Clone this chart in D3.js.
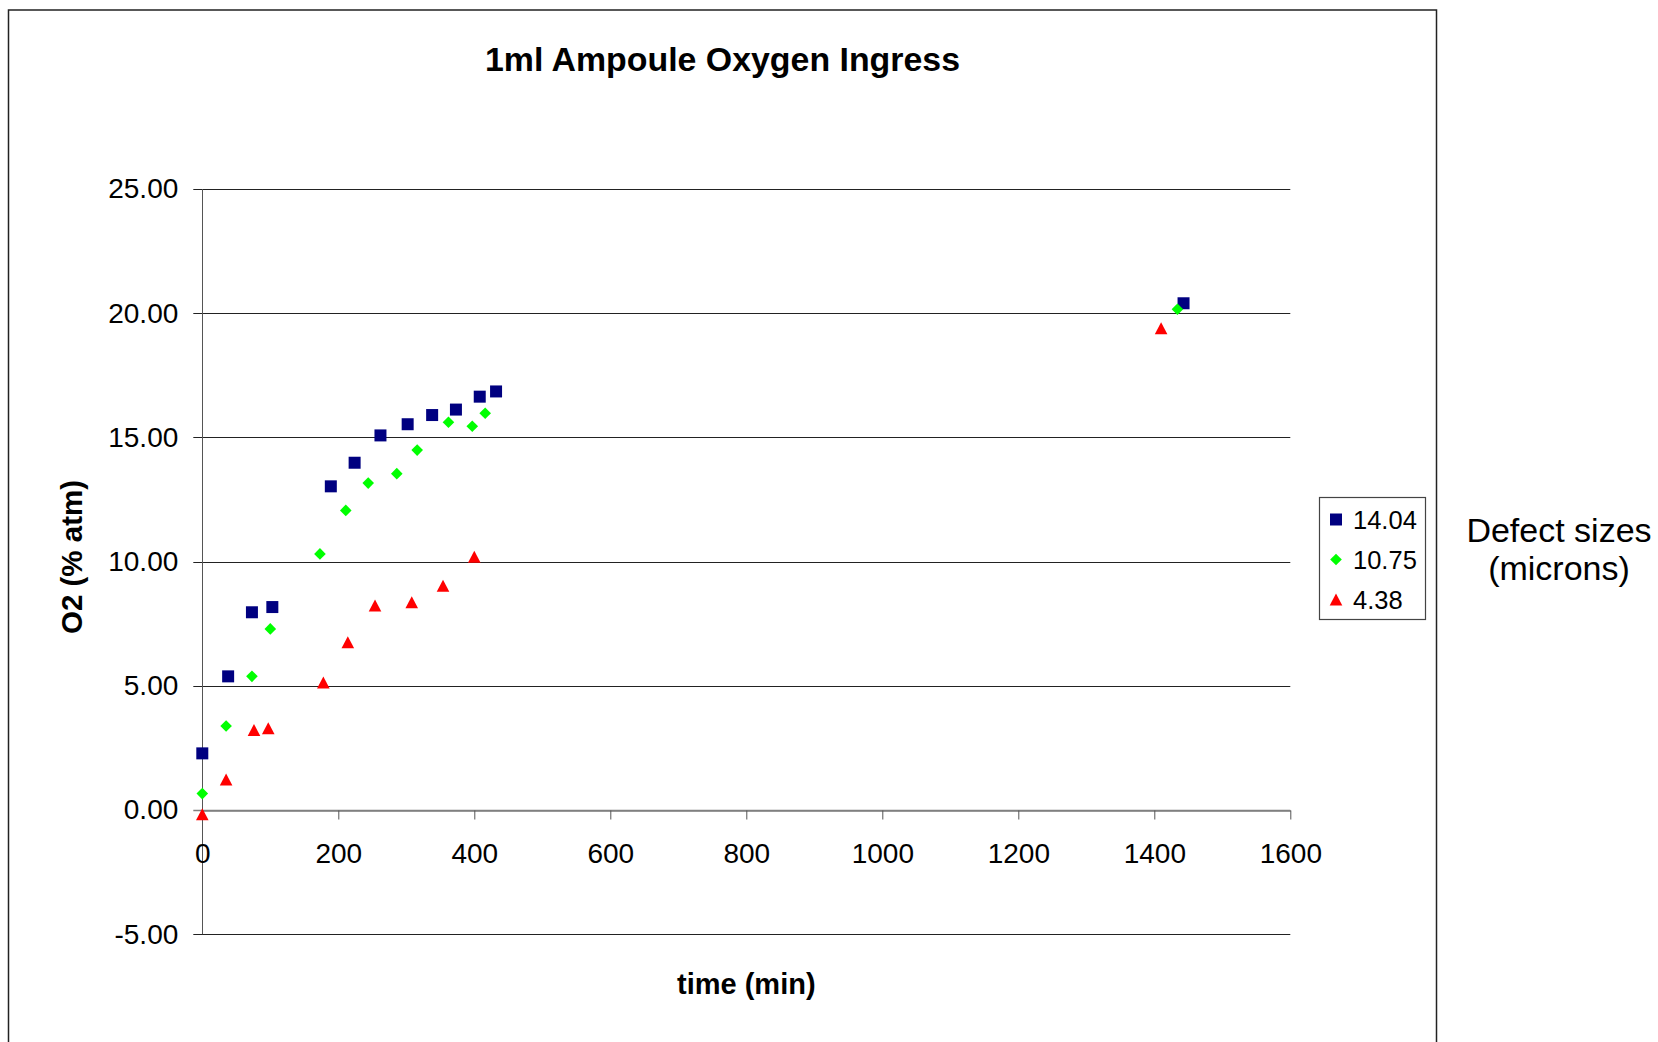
<!DOCTYPE html>
<html>
<head>
<meta charset="utf-8">
<script src="https://cdn.jsdelivr.net/npm/d3@7"></script>
<style>
  html, body { margin: 0; padding: 0; background: #fff; }
  svg { display: block; font-family: "Liberation Sans", Arial, sans-serif; }
</style>
</head>
<body>
<svg id="chart" width="1658" height="1042"></svg>
<script>
// ---- data ----
const seriesNames = ["14.04", "10.75", "4.38"];
const time_1404 = [0, 38, 73, 103, 189, 224, 262, 302, 338, 373, 408, 432, 1443];
const o2_1404   = [2.28, 5.38, 7.96, 8.17, 13.03, 13.98, 15.08, 15.53, 15.90, 16.12, 16.64, 16.85, 20.40];
const time_1075 = [0, 35, 73, 100, 173, 211, 244, 286, 316, 362, 397, 416, 1434];
const o2_1075   = [0.66, 3.38, 5.38, 7.29, 10.31, 12.06, 13.16, 13.54, 14.49, 15.61, 15.45, 15.97, 20.16];
const time_438  = [0, 35, 76, 97, 178, 214, 254, 308, 354, 400, 1410];
const o2_438    = [-0.17, 1.23, 3.22, 3.29, 5.13, 6.75, 8.23, 8.36, 9.03, 10.20, 19.39];
const xTicks = [0, 200, 400, 600, 800, 1000, 1200, 1400, 1600];
const yTicks = [-5, 0, 5, 10, 15, 20, 25];

const titleText = "1ml Ampoule Oxygen Ingress";
const xLabel = "time (min)";
const yLabel = "O2 (% atm)";
const legendTitle = ["Defect sizes", "(microns)"];

// ---- layout ----
const svg = d3.select("#chart");
const L = 202.3, R = 1290.3, T = 189, B = 934.2;
const x = d3.scaleLinear().domain([0, 1600]).range([L, R]);
const y = d3.scaleLinear().domain([-5, 25]).range([B, T]);
const loc = d3.formatLocale({ decimal: ".", thousands: ",", grouping: [3], currency: ["", ""], minus: "-" });

// custom marker shapes (Excel style)
const sq = { draw(c, s) { const h = Math.sqrt(s) / 2; c.rect(-h, -h, 2 * h, 2 * h); } };
const dia = { draw(c, s) { const h = Math.sqrt(s) / 2; c.moveTo(0, -h); c.lineTo(h, 0); c.lineTo(0, h); c.lineTo(-h, 0); c.closePath(); } };
const tri = { draw(c, s) { const h = Math.sqrt(s) / 2; c.moveTo(0, -h); c.lineTo(h * 1.05, h); c.lineTo(-h * 1.05, h); c.closePath(); } };

const series = [
  { name: seriesNames[0], t: time_1404, v: o2_1404, color: "#000080", shape: sq, size: 144 },
  { name: seriesNames[1], t: time_1075, v: o2_1075, color: "#00ff00", shape: dia, size: 135 },
  { name: seriesNames[2], t: time_438,  v: o2_438,  color: "#ff0000", shape: tri, size: 144 }
];

// background + outer frame
svg.append("rect").attr("x", 0).attr("y", 0).attr("width", 1658).attr("height", 1042).attr("fill", "#fff");
svg.append("rect").attr("x", 8.5).attr("y", 10).attr("width", 1428).attr("height", 1100)
  .attr("fill", "none").attr("stroke", "#222").attr("stroke-width", 1.5);

// gridlines (extend left to form the y ticks)
svg.append("g").selectAll("line").data(yTicks).join("line")
  .attr("x1", L - 9).attr("x2", R)
  .attr("y1", d => Math.round(y(d)) + 0.5).attr("y2", d => Math.round(y(d)) + 0.5)
  .attr("stroke", d => d === 0 ? "#808080" : "#222").attr("stroke-width", d => d === 0 ? 1.6 : 1.1);

// y axis line
svg.append("line").attr("x1", Math.round(L) + 0.5).attr("x2", Math.round(L) + 0.5)
  .attr("y1", T).attr("y2", B).attr("stroke", "#555").attr("stroke-width", 1);

// y tick labels
svg.append("g").attr("transform", `translate(${L},0)`)
  .call(d3.axisLeft(y).tickValues(yTicks).tickFormat(loc.format(".2f")).tickSize(9).tickPadding(15))
  .call(g => { g.select(".domain").remove(); g.selectAll(".tick line").remove(); })
  .call(g => g.selectAll("text").attr("font-size", 28).attr("fill", "#000")
    .attr("font-family", "'Liberation Sans', Arial, sans-serif"));

// x axis at y = 0
svg.append("g").attr("transform", `translate(0,${Math.round(y(0)) + 0.5})`)
  .call(d3.axisBottom(x).tickValues(xTicks).tickFormat(loc.format("d")).tickSizeInner(9).tickSizeOuter(0).tickPadding(24))
  .call(g => g.select(".domain").attr("stroke", "#808080").attr("stroke-width", 1.6))
  .call(g => g.selectAll(".tick line").attr("stroke", "#555"))
  .call(g => g.selectAll("text").attr("font-size", 28).attr("fill", "#000")
    .attr("font-family", "'Liberation Sans', Arial, sans-serif"));

// markers
series.forEach(s => {
  const sym = d3.symbol().type(s.shape).size(s.size);
  svg.append("g").selectAll("path").data(s.t.map((t, i) => [t, s.v[i]])).join("path")
    .attr("d", sym)
    .attr("transform", d => `translate(${x(d[0])},${y(d[1])})`)
    .attr("fill", s.color);
});

// title
svg.append("text").attr("x", 722.5).attr("y", 70.5).attr("text-anchor", "middle")
  .attr("font-size", 33).attr("font-weight", "bold").attr("textLength", 475).attr("lengthAdjust", "spacingAndGlyphs")
  .text(titleText);

// axis titles
svg.append("text").attr("x", (L + R) / 2).attr("y", 994).attr("text-anchor", "middle")
  .attr("font-size", 29).attr("font-weight", "bold").text(xLabel);
svg.append("text").attr("transform", "translate(82,557) rotate(-90)").attr("text-anchor", "middle")
  .attr("font-size", 29.5).attr("font-weight", "bold").text(yLabel);

// legend
const lg = svg.append("g");
lg.append("rect").attr("x", 1319.5).attr("y", 497.5).attr("width", 106).attr("height", 122)
  .attr("fill", "#fff").attr("stroke", "#444").attr("stroke-width", 1.2);
series.forEach((s, i) => {
  const cy = 519.5 + i * 40;
  lg.append("path").attr("d", d3.symbol().type(s.shape).size(s.size)())
    .attr("transform", `translate(1336,${cy})`).attr("fill", s.color);
  lg.append("text").attr("x", 1353).attr("y", cy + 9).attr("font-size", 25.5).text(s.name);
});

// legend side title
legendTitle.forEach((t, i) => {
  svg.append("text").attr("x", 1559).attr("y", 541.5 + i * 38).attr("text-anchor", "middle")
    .attr("font-size", 34).text(t);
});
</script>
</body>
</html>
